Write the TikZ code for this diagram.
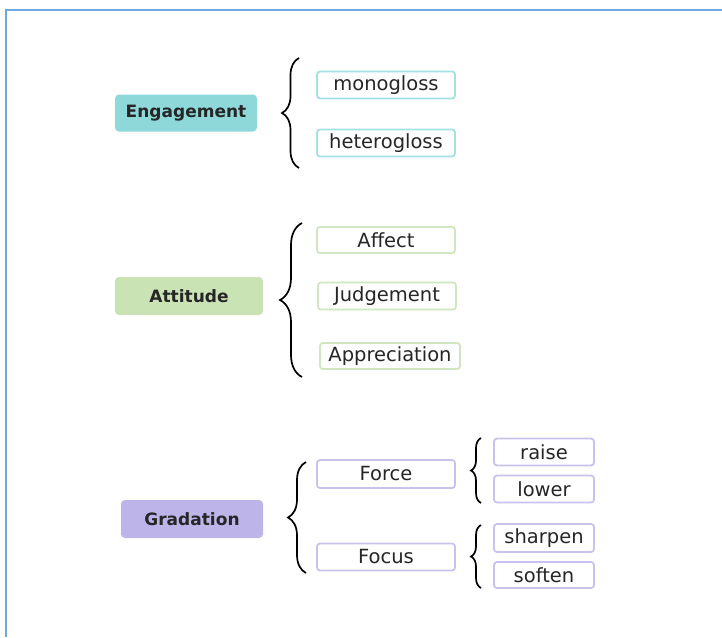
\documentclass[tikz,border=0pt]{standalone}
\usepackage{fontspec}
\setmainfont{DejaVu Sans}
\usetikzlibrary{calc,decorations.pathreplacing}
\definecolor{engfill}{HTML}{8ED8DA}
\definecolor{engline}{HTML}{A3E1E2}
\definecolor{attfill}{HTML}{C9E3B5}
\definecolor{attline}{HTML}{CFE6C0}
\definecolor{grafill}{HTML}{BDB5EA}
\definecolor{graline}{HTML}{C8C3EE}
\definecolor{framecol}{HTML}{6FA8E0}
\newcommand{\makebrace}[5]{
	\coordinate (#1-top) at (#2,#3);
	\coordinate (#1-bot) at (#2,#4);
	\draw[curly=#5] (#1-bot) -- (#1-top);
}

\begin{document}
\begin{tikzpicture}[x=1pt,y=-1pt,
	head/.style={rounded corners=4pt, minimum height=37pt, inner sep=0pt, text=black!85, font=\fontsize{17}{20}\selectfont\bfseries},
	leaf/.style={draw, line width=1.8pt, rounded corners=3pt, fill=white, minimum width=138pt, minimum height=27pt, inner sep=0pt, text=black!85, font=\fontsize{19.5}{23}\selectfont},
	curly/.style={decorate, line width=1.7pt, decoration={brace, amplitude=#1}}]
	\useasboundingbox (0,0) rectangle (722,637);
	\draw[framecol, line width=1.8pt] (6,637) -- (6,10) -- (722,10);

	% engagement
	\node (eng) at (186,113) [head, fill=engfill, minimum width=142pt] {Engagement};
	\makebrace{b1}{299}{58}{168}{17pt}
		\node (mono) at ($(eng) + (200,-28)$) [leaf, draw=engline] {monogloss};
		\node (hetero) at ($(mono) + (0,58)$) [leaf, draw=engline] {heterogloss};

	% attitude
	\node (att) at (189,296) [head, fill=attfill, minimum width=148pt, minimum height=38pt] {Attitude};
	\makebrace{b2}{302}{223}{377}{22pt}
		\node (affect) at ($(att) + (197,-56)$) [leaf, draw=attline, minimum height=26pt] {Affect};
		\node (judge) at ($(affect) + (1,56)$) [leaf, draw=attline] {Judgement};
		\node (apprec) at ($(judge) + (3,60)$) [leaf, draw=attline, minimum width=140pt, minimum height=26pt] {Appreciation};

	% gradation
	\node (gra) at (192,519) [head, fill=grafill, minimum width=142pt, minimum height=38pt] {Gradation};
	\makebrace{b3}{306}{462}{573}{18pt}
		\node (force) at ($(gra) + (194,-45)$) [leaf, draw=graline, minimum height=28pt] {Force};
		\node (focus) at ($(force) + (0,83)$) [leaf, draw=graline] {Focus};
	\makebrace{b4}{481}{438}{503}{10pt}
		\node (raise) at (544,452) [leaf, draw=graline, minimum width=100pt] {raise};
		\node (lower) at ($(raise) + (0,37)$) [leaf, draw=graline, minimum width=100pt] {lower};
	\makebrace{b5}{481}{525}{588}{10pt}
		\node (sharpen) at (544,538) [leaf, draw=graline, minimum width=100pt, minimum height=28pt] {sharpen};
		\node (soften) at ($(sharpen) + (0,37)$) [leaf, draw=graline, minimum width=100pt, minimum height=26pt] {soften};
\end{tikzpicture}
\end{document}
